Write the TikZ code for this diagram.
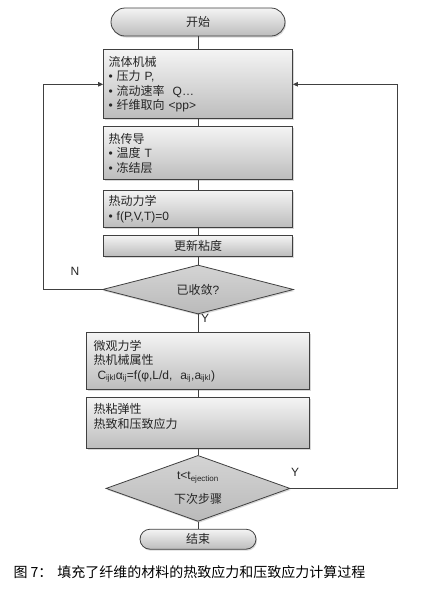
\documentclass[tikz,border=0pt]{standalone}
\usepackage{fontspec}
\setmainfont{Liberation Sans}
\newfontfamily\cjk{Noto Sans CJK SC}
\definecolor{edgegray}{RGB}{64,64,64}
\definecolor{fillhi}{RGB}{244,244,244}
\definecolor{filllo}{RGB}{188,188,188}
\definecolor{diahi}{RGB}{212,212,212}
\definecolor{dialo}{RGB}{186,186,186}
\usetikzlibrary{arrows.meta,positioning,shapes.geometric,shapes.misc,shadows}

\begin{document}
\begin{tikzpicture}[x=1pt, y=1pt,
      ln/.style={draw=edgegray, line width=0.8pt},
      arr/.style={-{Triangle[length=5pt,width=4.5pt]}, line width=0.8pt, edgegray},
      shade/.style={draw=edgegray, line width=0.8pt, top color=fillhi, bottom color=filllo,
                    drop shadow={opacity=0.3, shadow xshift=1pt, shadow yshift=-1.5pt}},
      proc/.style={shade, align=left, inner xsep=5pt, inner ysep=2pt,
                   text width=179pt, text=black!85, font=\fontsize{12}{14.5}\selectfont},
      wide/.style={inner xsep=7pt, text width=209pt},
      term/.style={shade, rounded rectangle, inner sep=0pt, text=black!85,
                   font=\cjk\fontsize{12}{14}\selectfont},
      decide/.style={diamond, aspect=2.8, inner sep=0pt, draw=edgegray, line width=0.8pt,
                     top color=diahi, bottom color=dialo, align=center, text=black!85,
                     drop shadow={opacity=0.3, shadow xshift=1pt, shadow yshift=-1.5pt},
                     font=\fontsize{12}{14}\selectfont},
      lbl/.style={text=black!85, font=\fontsize{12}{14}\selectfont}
    ]
    \fill[white] (0,0) rectangle (443,-603);
    \useasboundingbox (0,0) rectangle (443,-603);

    \node[term, minimum width=174pt, minimum height=28pt] (start) at (198,-22) {开始};
    \node[proc, minimum height=69pt, below=13pt of start] (fluid) {%
      {\cjk 流体机械}\\
      • {\cjk 压力} P,\\
      • {\cjk 流动速率}\ \ Q…\\
      • {\cjk 纤维取向} <pp>};
    \node[proc, minimum height=53pt, below=7pt of fluid] (heat) {%
      {\cjk 热传导}\\
      • {\cjk 温度} T\\
      • {\cjk 冻结层}};
    \node[proc, minimum height=37pt, below=10pt of heat] (thermo) {%
      {\cjk 热动力学}\\
      • f(P,V,T)=0};
    \node[proc, minimum height=21pt, align=center, below=7pt of thermo] (visc) {{\cjk 更新粘度}};
    \node[decide, minimum width=191pt, minimum height=49pt, below=8pt of visc] (conv) {{\cjk 已收敛}?};
    \node[proc, wide, minimum height=57pt, below=18pt of conv] (micro) {%
      {\cjk 微观力学}\\
      {\cjk 热机械属性}\\
      \ C\textsubscript{ijkl}α\textsubscript{ij}=f(φ,L/d,\ \ a\textsubscript{ij},a\textsubscript{ijkl})};
    \node[proc, wide, minimum height=51pt, below=7pt of micro] (visco) {%
      {\cjk 热粘弹性}\\
      {\cjk 热致和压致应力}\\
      ~};
    \node[decide, minimum width=184pt, minimum height=66pt, below=6pt of visco] (next) {%
      \raisebox{4pt}{t<t\textsubscript{ejection}}\\[6pt]
      {\cjk 下次步骤}};
    \node[term, minimum width=116pt, minimum height=20pt, below=7pt of next] (stop) {结束};

    \draw[ln] (start.south) -- (fluid.north);
    \draw[ln] (fluid.south) -- (heat.north);
    \draw[ln] (heat.south) -- (thermo.north);
    \draw[ln] (thermo.south) -- (visc.north);
    \draw[ln] (visc.south) -- (conv.north);
    \draw[ln] (conv.south) -- (micro.north);
    \draw[ln] (micro.south) -- (visco.north);
    \draw[ln] (visco.south) -- (next.north);
    \draw[ln] (next.south) -- (stop.north);

    % feedback loops
    \coordinate (nleft) at (43,0);
    \coordinate (yright) at (397,0);
    \draw[arr] (conv.west) -- (conv.west -| nleft) |- (fluid.west);
    \draw[arr] (next.east) -- (next.east -| yright) |- (fluid.east);

    \node[lbl] (nlab) at (75,-271) {N};
    \node[lbl] (ylab) at (205,-318) {Y};
    \node[lbl] (ylab2) at (295,-472) {Y};

    \node[anchor=west, text=black, font=\cjk\fontsize{14}{16}\selectfont] (caption) at (10,-572)
      {图 7：\hspace{5pt}填充了纤维的材料的热致应力和压致应力计算过程};
  \end{tikzpicture}
\end{document}
